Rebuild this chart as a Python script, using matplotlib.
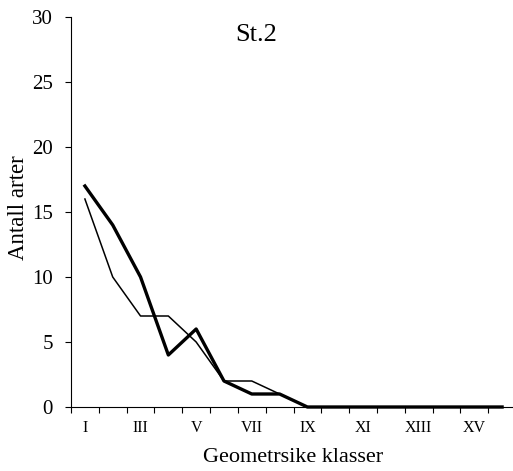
import matplotlib
matplotlib.use("Agg")
import matplotlib.pyplot as plt
import numpy as np

classes = ["I", "II", "III", "IV", "V", "VI", "VII", "VIII",
           "IX", "X", "XI", "XII", "XIII", "XIV", "XV", "XVI"]
thick_vals = [17, 14, 10, 4, 6, 2, 1, 1, 0, 0, 0, 0, 0, 0, 0, 0]
thin_vals = [16, 10, 7, 7, 5, 2, 2, 1, 0, 0, 0, 0, 0, 0, 0, 0]

plt.rcParams['font.family'] = ['Liberation Serif', 'DejaVu Serif']

fig = plt.figure(figsize=(5.13, 4.71), dpi=100)
ax = fig.add_axes([71 / 513, 64 / 471, 445 / 513, 390 / 471])

x = np.arange(len(classes))
ax.plot(x, thin_vals, color='black', lw=1.1, clip_on=False)
ax.plot(x, thick_vals, color='black', lw=2.4, clip_on=False)

ax.set_xlim(-0.5, len(classes) - 0.5)
ax.set_ylim(0, 30)
ax.set_yticks(range(0, 31, 5))
ax.tick_params(axis='y', direction='out', length=4, width=0.8, labelsize=15, pad=9)

# tick marks between categories, labels on every other category
ax.set_xticks(np.arange(-0.5, len(classes), 1.0))
ax.set_xticklabels([])
ax.tick_params(axis='x', which='major', direction='out', length=4, width=0.8)
ax.set_xticks(x[::2], minor=True)
ax.set_xticklabels(classes[::2], minor=True)
ax.tick_params(axis='x', which='minor', length=0, labelsize=11.5, pad=9)

for s in ['top', 'right']:
    ax.spines[s].set_visible(False)
ax.spines['left'].set_linewidth(0.8)
ax.spines['bottom'].set_linewidth(0.8)

ax.text(0.417, 0.955, "St.2", transform=ax.transAxes, ha='center', va='center', fontsize=19)
ax.set_ylabel("Antall arter", fontsize=16.5)
ax.yaxis.set_label_coords(-0.094, 0.51)
ax.set_xlabel("Geometrsike klasser", fontsize=16, labelpad=9)

fig.savefig("out.png", dpi=100)
